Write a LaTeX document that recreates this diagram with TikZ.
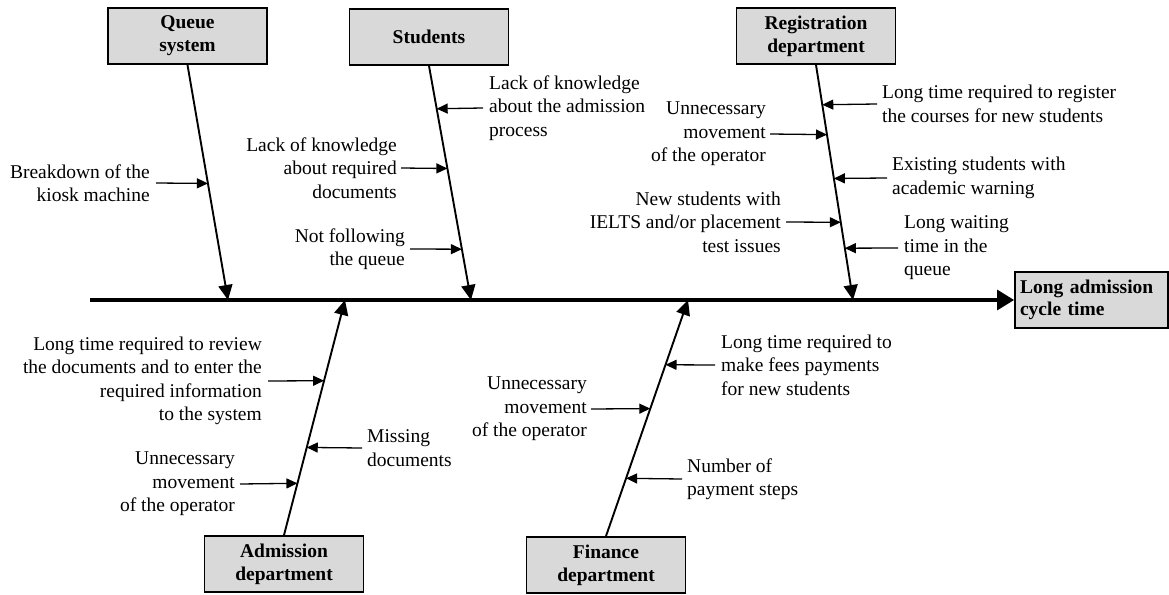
\documentclass[tikz,border=0pt]{standalone}
\usepackage{fontspec}
\setmainfont{Liberation Serif}
\usetikzlibrary{arrows.meta,calc}

\tikzset{
  txt/.style={font=\fontsize{19.5}{23.5}\selectfont, inner xsep=0pt, inner ysep=1pt},
  ltxt/.style={txt, anchor=east, align=right},
  rtxt/.style={txt, anchor=west, align=left},
  catbox/.style={draw=black, line width=1.8pt, fill=black!15,
    minimum width=159pt, minimum height=56pt, inner sep=2pt,
    font=\fontsize{19.5}{23}\selectfont\bfseries, align=center},
  effbox/.style={draw=black, line width=1.8pt, fill=black!15,
    minimum height=56pt, text width=143pt, inner xsep=5pt, inner ysep=2pt,
    font=\fontsize{19.5}{22}\selectfont\bfseries, align=left},
  spine/.style={line width=3.2pt, -{Triangle[length=17pt,width=20pt]}},
  bone/.style={line width=1.9pt, -{Triangle[length=15pt,width=14pt]}},
  cause/.style={line width=1.3pt, -{Triangle[length=11pt,width=10pt]}}
}

\begin{document}
\begin{tikzpicture}[x=1pt,y=-1pt]
\useasboundingbox (0,0) rectangle (1169,594);

% category boxes
\node[catbox] (qbox) at (187.5,36) {Queue\\system};
\node[catbox] (sbox) at (429,37) {Students};
\node[catbox] (rbox) at (816,36) {Registration\\department};
\node[catbox] (abox) at (284,564) {Admission\\department};
\node[catbox] (fbox) at (606,565) {Finance\\department};

% effect
\node[effbox] (eff) at (1091.5,300) {Long admission\\cycle time};

% spine
\coordinate (tail) at (90,300);
\draw[spine] (tail) -- (eff.west);

% bone tips on the spine
\coordinate (qtip) at (228,300);
\coordinate (stip) at (471,300);
\coordinate (rtip) at (853,300);
\coordinate (atip) at (345,300);
\coordinate (ftip) at (688,300);

\draw[bone] (qbox.south) -- (qtip);
\draw[bone] (sbox.south) -- (stip);
\draw[bone] (rbox.south) -- (rtip);
\draw[bone] (abox.north) -- (atip);
\draw[bone] (fbox.north) -- (ftip);

% points on the bones where causes attach
\coordinate (q1) at ($(qbox.south)!{(183-64)/236}!(qtip)$);
\coordinate (s1) at ($(sbox.south)!{(108-65)/235}!(stip)$);
\coordinate (s2) at ($(sbox.south)!{(168-65)/235}!(stip)$);
\coordinate (s3) at ($(sbox.south)!{(249-65)/235}!(stip)$);
\coordinate (r1) at ($(rbox.south)!{(104-64)/236}!(rtip)$);
\coordinate (r2) at ($(rbox.south)!{(134-64)/236}!(rtip)$);
\coordinate (r3) at ($(rbox.south)!{(178-64)/236}!(rtip)$);
\coordinate (r4) at ($(rbox.south)!{(222-64)/236}!(rtip)$);
\coordinate (r5) at ($(rbox.south)!{(248-64)/236}!(rtip)$);
\coordinate (a1) at ($(abox.north)!{(536-381)/236}!(atip)$);
\coordinate (a2) at ($(abox.north)!{(536-448)/236}!(atip)$);
\coordinate (a3) at ($(abox.north)!{(536-484)/236}!(atip)$);
\coordinate (f1) at ($(fbox.north)!{(537-365)/237}!(ftip)$);
\coordinate (f2) at ($(fbox.north)!{(537-409)/237}!(ftip)$);
\coordinate (f3) at ($(fbox.north)!{(537-479)/237}!(ftip)$);

% queue system
\node[ltxt] (qa) at (150,183) {Breakdown of the\\kiosk machine};
\draw[cause] ([xshift=6pt]qa.east) -- (q1);

% students
\node[rtxt] (sa) at (489,108) {Lack of knowledge\\about the admission\\process};
\node[ltxt] (sb) at (397,168) {Lack of knowledge\\about required\\documents};
\node[ltxt] (sc) at (405,249) {Not following\\the queue};
\draw[cause] ([xshift=-6pt]sa.west) -- (s1);
\draw[cause] ([xshift=4pt]sb.east) -- (s2);
\draw[cause] ([xshift=5pt]sc.east) -- (s3);

% registration department
\node[rtxt] (ra) at (882,104) {Long time required to register\\the courses for new students};
\node[ltxt] (rb) at (766,134) {Unnecessary\\movement\\of the operator};
\node[rtxt] (rc) at (892,178) {Existing students with\\academic warning};
\node[ltxt] (rd) at (781,222) {New students with\\IELTS and/or placement\\test issues};
\node[rtxt] (re) at (904,248) {Long waiting\\time in the\\queue};
\draw[cause] ([xshift=-5pt]ra.west) -- (r1);
\draw[cause] ([xshift=4pt]rb.east) -- (r2);
\draw[cause] ([xshift=-5pt]rc.west) -- (r3);
\draw[cause] ([xshift=5pt]rd.east) -- (r4);
\draw[cause] ([xshift=-6pt]re.west) -- (r5);

% admission department
\node[ltxt] (aa) at (262,381) {Long time required to review\\the documents and to enter the\\required information\\to the system};
\node[rtxt] (ab) at (367,448) {Missing\\documents};
\node[ltxt] (ac) at (235,484) {Unnecessary\\movement\\of the operator};
\draw[cause] ([xshift=6pt]aa.east) -- (a1);
\draw[cause] ([xshift=-5pt]ab.west) -- (a2);
\draw[cause] ([xshift=5pt]ac.east) -- (a3);

% finance department
\node[rtxt] (fa) at (721,365) {Long time required to\\make fees payments\\for new students};
\node[ltxt] (fb) at (587,409) {Unnecessary\\movement\\of the operator};
\node[rtxt] (fc) at (687,479) {Number of\\payment steps};
\draw[cause] ([xshift=-6pt]fa.west) -- (f1);
\draw[cause] ([xshift=4pt]fb.east) -- (f2);
\draw[cause] ([xshift=-5pt]fc.west) -- (f3);
\end{tikzpicture}
\end{document}
